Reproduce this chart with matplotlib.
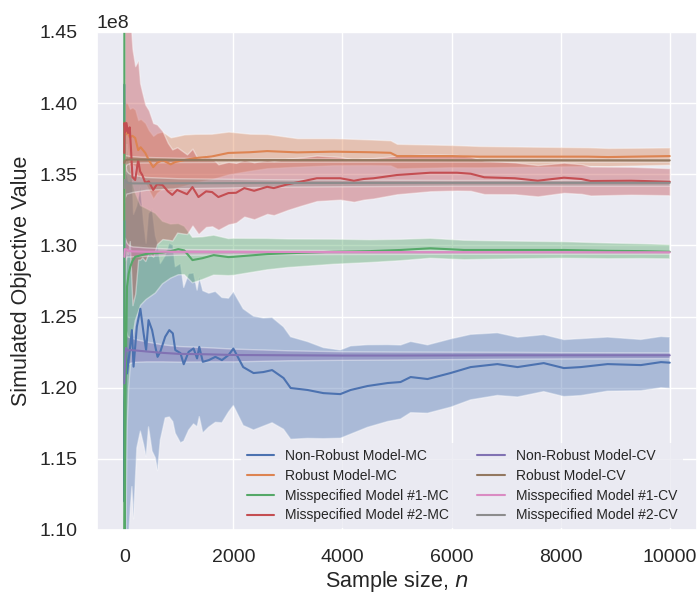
import numpy as np
import matplotlib
matplotlib.use("Agg")
import matplotlib.pyplot as plt
import seaborn as sns

sns.set_theme(style="darkgrid")
plt.rcParams['font.family'] = ['Liberation Sans', 'DejaVu Sans']

SCALE = 1e8

# ---------------- data (values in units of 1e8) ----------------
series_labels = ["Non-Robust Model-MC", "Robust Model-MC", "Misspecified Model #1-MC",
                 "Misspecified Model #2-MC", "Non-Robust Model-CV", "Robust Model-CV",
                 "Misspecified Model #1-CV", "Misspecified Model #2-CV"]

# Non-Robust Model-MC
n_nr_mc = [1, 3, 6, 10, 20, 35, 50, 80, 110, 140, 170, 230, 295, 355, 400, 445, 510, 570, 610,
           660, 750, 825, 890, 935, 1030, 1090, 1180, 1270, 1335, 1375, 1440, 1550, 1670, 1790,
           1910, 2000, 2180, 2370, 2550, 2710, 2920, 3050, 3360, 3650, 3960, 4150, 4460, 4830,
           5065, 5250, 5560, 5980, 6350, 6840, 7210, 7690, 8060, 8370, 8860, 9470, 9840, 10000]
m_nr_mc = [1.413, 1.12, 1.16, 1.19, 1.205, 1.225, 1.21, 1.2195, 1.23, 1.2405, 1.2148, 1.2428,
           1.2555, 1.238, 1.2265, 1.2475, 1.2405, 1.2287, 1.2217, 1.2252, 1.2358, 1.2405,
           1.2382, 1.2265, 1.2243, 1.2165, 1.2252, 1.2276, 1.2206, 1.2287, 1.2182, 1.2194,
           1.2217, 1.2194, 1.2229, 1.2275, 1.2145, 1.2103, 1.211, 1.2124, 1.2068, 1.1998,
           1.1984, 1.1962, 1.1955, 1.1984, 1.2012, 1.2033, 1.2040, 1.2075, 1.2061, 1.2103,
           1.2145, 1.2166, 1.2145, 1.2173, 1.2138, 1.2145, 1.2166, 1.2159, 1.218, 1.2176]
h_nr_mc = [0.0, 0.3, 0.25, 0.2, 0.17, 0.15, 0.14, 0.125, 0.115, 0.11, 0.107, 0.085, 0.086,
           0.078, 0.075, 0.075, 0.085, 0.078, 0.08, 0.062, 0.057, 0.061, 0.062, 0.0585, 0.063,
           0.054, 0.055, 0.053, 0.048, 0.049, 0.05, 0.047, 0.046, 0.044, 0.04, 0.04, 0.041,
           0.04, 0.038, 0.037, 0.036, 0.036, 0.034, 0.032, 0.031, 0.031, 0.029, 0.027, 0.026,
           0.025, 0.024, 0.024, 0.023, 0.022, 0.021, 0.02, 0.02, 0.02, 0.019, 0.018, 0.018,
           0.018]

# Robust Model-MC
n_r_mc = [1, 5, 15, 30, 60, 100, 150, 200, 255, 300, 385, 450, 530, 600, 700, 850, 935, 1100,
          1300, 1600, 1910, 2300, 2620, 3170, 3840, 4500, 4880, 5000, 5500, 6000, 6500, 7500,
          8500, 8870, 9500, 10000]
m_r_mc = [1.318, 1.387, 1.383, 1.378, 1.380, 1.376, 1.377, 1.3755, 1.367, 1.369, 1.365, 1.36,
          1.355, 1.358, 1.36, 1.357, 1.3586, 1.360, 1.3614, 1.3625, 1.365, 1.3655, 1.3663,
          1.3654, 1.3659, 1.3655, 1.3651, 1.3628, 1.3628, 1.3628, 1.3624, 1.3624, 1.3624,
          1.3621, 1.3625, 1.3628]
h_r_mc = [0.0, 0.03, 0.025, 0.022, 0.02, 0.02, 0.02, 0.02, 0.021, 0.02, 0.021, 0.021, 0.022,
          0.021, 0.02, 0.019, 0.018, 0.018, 0.017, 0.016, 0.015, 0.013, 0.012, 0.01, 0.0095,
          0.009, 0.0088, 0.0086, 0.0082, 0.0078, 0.0075, 0.007, 0.0066, 0.0064, 0.0062, 0.0061]

# Misspecified Model #1-MC
n_m1_mc = [1, 3, 8, 15, 25, 35, 50, 80, 110, 150, 200, 300, 400, 570, 700, 850, 990, 1100,
           1250, 1430, 1640, 1910, 2000, 2620, 3000, 3840, 4500, 5065, 5610, 6230, 7000, 8060,
           8860, 9500, 10000]
m_m1_mc = [1.46, 1.05, 1.08, 1.15, 1.20, 1.23, 1.271, 1.28, 1.285, 1.289, 1.292, 1.293, 1.294,
           1.2946, 1.295, 1.296, 1.2974, 1.2965, 1.2897, 1.291, 1.2932, 1.2918, 1.292, 1.2939,
           1.2945, 1.2956, 1.296, 1.2968, 1.298, 1.2968, 1.2968, 1.2968, 1.2962, 1.296, 1.2956]
h_m1_mc = [0.0, 0.3, 0.25, 0.2, 0.15, 0.12, 0.1, 0.08, 0.07, 0.055, 0.045, 0.035, 0.032, 0.028,
           0.022, 0.019, 0.018, 0.017, 0.016, 0.015, 0.014, 0.013, 0.013, 0.011, 0.01, 0.0088,
           0.008, 0.0075, 0.007, 0.0068, 0.0063, 0.0058, 0.0055, 0.0052, 0.005]

# Misspecified Model #2-MC
n_m2_mc = [1, 5, 20, 40, 70, 100, 120, 150, 200, 255, 290, 330, 385, 450, 530, 600, 700, 800,
           880, 970, 1060, 1150, 1250, 1360, 1500, 1610, 1725, 1910, 2050, 2200, 2380, 2620,
           2740, 3000, 3230, 3530, 3960, 4210, 4390, 4570, 5000, 5610, 6100, 6350, 6600, 7160,
           7580, 8060, 8380, 8550, 9290, 10000]
m_m2_mc = [1.365, 1.386, 1.38, 1.386, 1.379, 1.383, 1.37, 1.348, 1.346, 1.360, 1.352, 1.3495,
           1.344, 1.345, 1.339, 1.343, 1.3425, 1.338, 1.3355, 1.339, 1.3375, 1.336, 1.341, 1.334,
           1.338, 1.3375, 1.334, 1.3368, 1.337, 1.3403, 1.3384, 1.3412, 1.3403, 1.343, 1.3448,
           1.3472, 1.3472, 1.3455, 1.3467, 1.3472, 1.3495, 1.3511, 1.3511, 1.3504, 1.3479,
           1.3472, 1.3455, 1.3476, 1.3467, 1.3453, 1.3455, 1.3448]
h_m2_mc = [0.0, 0.15, 0.1, 0.09, 0.085, 0.08, 0.085, 0.09, 0.08, 0.07, 0.062, 0.058, 0.055,
           0.05, 0.047, 0.042, 0.038, 0.034, 0.032, 0.03, 0.029, 0.028, 0.027, 0.026, 0.025,
           0.024, 0.023, 0.022, 0.021, 0.02, 0.02, 0.019, 0.019, 0.018, 0.017, 0.016, 0.015,
           0.0148, 0.0145, 0.0142, 0.0135, 0.013, 0.0125, 0.012, 0.0118, 0.0112, 0.011, 0.0106,
           0.0104, 0.0102, 0.0098, 0.0095]

# Non-Robust Model-CV
n_nr_cv = [1, 10, 30, 60, 100, 200, 400, 700, 1000, 1500, 2000, 3000, 4000, 5000, 6000, 7000,
           8000, 9000, 10000]
m_nr_cv = [1.203, 1.215, 1.228, 1.226, 1.2265, 1.2262, 1.2255, 1.2245, 1.2238, 1.2235, 1.223,
           1.2228, 1.2226, 1.2226, 1.2227, 1.2228, 1.2228, 1.2228, 1.2228]
h_nr_cv = [0.0, 0.02, 0.012, 0.01, 0.009, 0.008, 0.007, 0.006, 0.0055, 0.005, 0.0045, 0.0035,
           0.003, 0.0028, 0.0026, 0.0024, 0.0022, 0.0021, 0.002]

# Robust Model-CV
n_r_cv = [1, 10, 50, 100, 300, 1000, 3000, 6000, 10000]
m_r_cv = [1.358, 1.3595, 1.3602, 1.3604, 1.3603, 1.3601, 1.3600, 1.3599, 1.3598]
h_r_cv = [0.0, 0.004, 0.003, 0.0025, 0.002, 0.0015, 0.0012, 0.001, 0.001]

# Misspecified Model #1-CV
n_m1_cv = [1, 10, 40, 80, 150, 400, 1000, 3000, 6000, 10000]
m_m1_cv = [1.292, 1.2974, 1.2972, 1.2962, 1.2958, 1.2956, 1.2955, 1.2954, 1.2953, 1.2952]
h_m1_cv = [0.0, 0.008, 0.005, 0.004, 0.0035, 0.003, 0.002, 0.0015, 0.0012, 0.001]

# Misspecified Model #2-CV
n_m2_cv = [1, 10, 40, 80, 150, 400, 1000, 3000, 6000, 10000]
m_m2_cv = [1.3403, 1.346, 1.3445, 1.3438, 1.3436, 1.3436, 1.3437, 1.3439, 1.344, 1.344]
h_m2_cv = [0.0, 0.012, 0.008, 0.007, 0.006, 0.0045, 0.0035, 0.0025, 0.002, 0.002]

all_n = [n_nr_mc, n_r_mc, n_m1_mc, n_m2_mc, n_nr_cv, n_r_cv, n_m1_cv, n_m2_cv]
all_m = [m_nr_mc, m_r_mc, m_m1_mc, m_m2_mc, m_nr_cv, m_r_cv, m_m1_cv, m_m2_cv]
all_h = [h_nr_mc, h_r_mc, h_m1_mc, h_m2_mc, h_nr_cv, h_r_cv, h_m1_cv, h_m2_cv]

colors = sns.color_palette("deep", 8)

# ---------------- plot ----------------
fig = plt.figure(figsize=(6.99, 5.95), dpi=100)
ax = fig.add_axes([97/699, 1 - 530/595, 600/699, 498/595])

for lab, n, m, h, c in zip(series_labels, all_n, all_m, all_h, colors):
    n = np.asarray(n, float)
    m = np.asarray(m, float) * SCALE
    h = np.asarray(h, float) * SCALE
    ax.plot(n, m, color=c, lw=1.5, label=lab)
    ax.fill_between(n, m - h, m + h, color=c, alpha=0.4, edgecolor='white', linewidth=1.0)

ax.set_ylim(1.10 * SCALE, 1.45 * SCALE)
ax.set_xlim(-500, 10500)
ax.set_yticks(np.arange(1.10, 1.4501, 0.05) * SCALE)
ax.set_xticks([0, 2000, 4000, 6000, 8000, 10000])
ax.tick_params(labelsize=14, pad=8)
ax.yaxis.get_offset_text().set_fontsize(14)
ax.set_xlabel("Sample size, $n$", fontsize=15.5, labelpad=2)
ax.set_ylabel("Simulated Objective Value", fontsize=15.5, labelpad=5)

ax.legend(loc='lower right', bbox_to_anchor=(0.977, 0.004), borderaxespad=0.0,
          ncol=2, fontsize=10, frameon=True, facecolor='#EAEAF2', edgecolor='none',
          framealpha=0.8, labelspacing=0.42)

fig.savefig("out.png", dpi=100)
